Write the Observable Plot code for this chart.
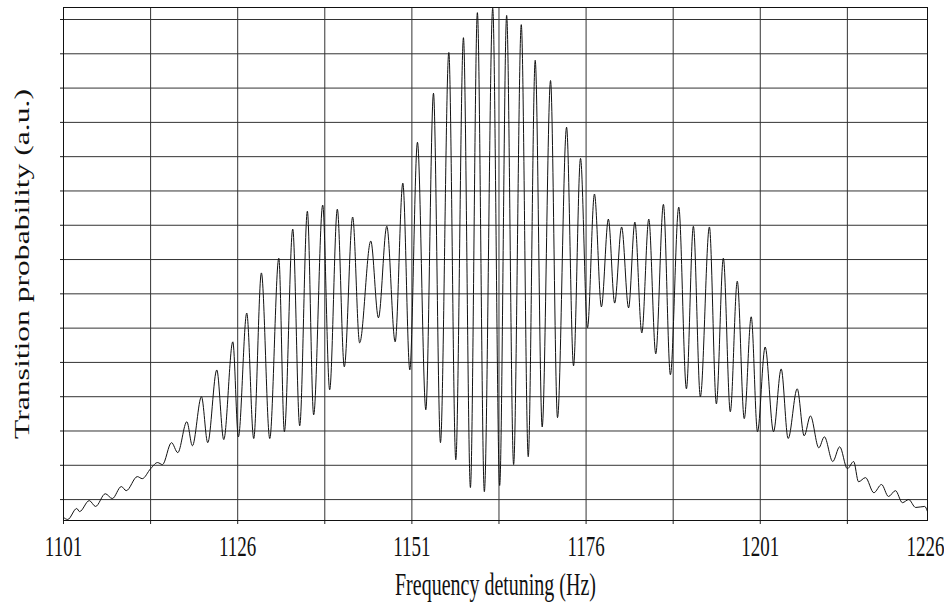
<!DOCTYPE html>
<html>
<head>
<meta charset="utf-8">
<script src="https://cdn.jsdelivr.net/npm/d3@7"></script>
<script src="https://cdn.jsdelivr.net/npm/@observablehq/plot@0.6"></script>
<style>
  html, body { margin: 0; padding: 0; background: #fff; }
  #chart { width: 944px; height: 610px; overflow: hidden; }
</style>
</head>
<body>
<div id="chart"></div>
<script>
// Frequency detuning (Hz) of successive extrema of the trace
const freq = [
  1101.0, 1101.6, 1102.9, 1103.3, 1104.7, 1105.6, 1107.0, 1108.0, 1109.3, 1110.0,
  1111.6, 1112.3, 1113.5, 1114.5, 1115.2, 1116.5, 1117.4, 1118.7, 1119.5, 1120.8,
  1121.7, 1123.0, 1124.0, 1125.3, 1126.1, 1127.3, 1128.3, 1129.4, 1130.6, 1131.9,
  1132.7, 1133.9, 1134.9, 1136.0, 1136.9, 1138.2, 1139.2, 1140.3, 1141.3, 1142.5,
  1143.5, 1145.1, 1146.2, 1147.4, 1148.6, 1149.7, 1150.7, 1151.8, 1153.0, 1154.1,
  1155.1, 1156.3, 1157.3, 1158.4, 1159.4, 1160.4, 1161.4, 1162.6, 1163.6, 1164.6,
  1165.6, 1166.7, 1167.7, 1168.7, 1169.7, 1170.9, 1171.9, 1173.2, 1174.2, 1175.2,
  1176.2, 1177.2, 1178.2, 1179.2, 1180.1, 1181.1, 1182.1, 1183.0, 1184.0, 1185.0,
  1186.0, 1187.1, 1188.1, 1189.3, 1190.4, 1191.4, 1192.4, 1193.7, 1194.7, 1195.7,
  1196.7, 1197.7, 1198.7, 1199.7, 1200.6, 1201.7, 1202.9, 1204.0, 1205.0, 1206.3,
  1207.3, 1208.2, 1209.4, 1210.2, 1211.4, 1212.4, 1213.5, 1214.4, 1215.1, 1216.1,
  1217.3, 1218.4, 1219.4, 1220.4, 1221.4, 1222.3, 1223.3, 1224.6, 1225.0
];
// Transition probability (a.u.) at those points
const prob = [
  -0.52, -0.58, -0.26, -0.35, -0.03, -0.20, 0.17, 0.03, 0.38, 0.26,
  0.67, 0.61, 0.90, 1.08, 1.02, 1.66, 1.37, 2.27, 1.57, 3.00,
  1.66, 3.78, 1.75, 4.60, 1.83, 5.44, 1.78, 6.61, 1.78, 7.04,
  1.98, 7.89, 2.15, 8.41, 2.47, 8.59, 3.20, 8.47, 3.87, 8.24,
  4.57, 7.54, 5.30, 7.97, 4.60, 9.23, 3.78, 10.42, 2.62, 11.85,
  1.66, 13.04, 1.16, 13.47, 0.35, 14.20, 0.23, 14.33, 0.41, 14.12,
  1.02, 13.85, 1.25, 12.81, 2.12, 12.22, 2.39, 10.86, 3.90, 9.95,
  5.01, 8.91, 5.62, 8.18, 5.73, 7.95, 5.59, 8.09, 4.86, 8.18,
  4.25, 8.61, 3.64, 8.53, 3.23, 7.97, 3.00, 7.95, 2.79, 7.04,
  2.56, 6.37, 2.36, 5.33, 1.98, 4.45, 1.98, 3.81, 1.78, 3.23,
  1.86, 2.44, 1.51, 1.83, 1.11, 1.54, 0.90, 1.11, 0.52, 0.64,
  0.20, 0.44, 0.09, 0.26, -0.09, 0.00, -0.23, -0.20, -0.35
];
// Grid positions
const gridX = [1101, 1113.5, 1126, 1138.5, 1151, 1163.5, 1176, 1188.5, 1201, 1213.5];
const gridY = [0, 1, 2, 3, 4, 5, 6, 7, 8, 9, 10, 11, 12, 13, 14];
// Tick labels
const tickLabels = [1101, 1126, 1151, 1176, 1201];
const lastTickLabel = [1226];
const xTitle = "Frequency detuning (Hz)";
const yTitle = "Transition probability (a.u.)";

const data = freq.map((f, i) => ({f, p: prob[i]}));
const font = "'Liberation Serif', 'Times New Roman', serif";
const STRETCH = 1.58; // the source figure's type is stretched vertically

const chart = Plot.plot({
  width: 944,
  height: 610,
  marginLeft: 63,
  marginRight: 17,
  marginTop: 7,
  marginBottom: 90,
  x: {domain: [1101, 1225]},
  y: {domain: [-0.61, 14.35]},
  style: {fontFamily: font, background: "#fff", color: "#111"},
  marks: [
    Plot.ruleX(gridX, {x: d => d, stroke: "#333", strokeWidth: 1}),
    Plot.ruleY(gridY, {y: d => d, stroke: "#333", strokeWidth: 1}),
    Plot.axisX(gridX, {tickSize: 4, tickFormat: () => "", label: null, stroke: "#222"}),
    Plot.axisY(gridY, {tickSize: 3, tickFormat: () => "", label: null, stroke: "#222"}),
    Plot.frame({stroke: "#111", strokeWidth: 1}),
    Plot.line(data, {x: "f", y: "p", curve: "monotone-x", stroke: "#111", strokeWidth: 1, clip: true}),
    Plot.text(tickLabels, {x: d => d, text: d => String(d), frameAnchor: "bottom", dy: 32, fontSize: 19, fill: "#111"}),
    Plot.text(lastTickLabel, {x: d => d, text: d => String(d), frameAnchor: "bottom", dy: 32, dx: 10, textAnchor: "end", fontSize: 19, fill: "#111"}),
    Plot.text([xTitle], {text: d => d, frameAnchor: "bottom", dy: 71, fontSize: 20, fill: "#111"}),
    Plot.text([yTitle], {text: d => d, frameAnchor: "left", dx: -41, rotate: -90, textAnchor: "middle", fontSize: 20, fill: "#111"})
  ]
});
document.getElementById("chart").appendChild(chart);

// Stretch the type vertically (about each label's own centre), as in the source figure
const root = chart.tagName.toLowerCase() === "svg" ? chart : chart.querySelector("svg");
d3.select(root).selectAll("text").each(function() {
  const t = this.textContent;
  if (!t) return;
  const b = this.getBBox();
  const cx = b.x + b.width / 2, cy = b.y + b.height / 2;
  const [sx, sy] = t === yTitle ? [STRETCH, 1] : [1, STRETCH];
  const prev = this.getAttribute("transform") || "";
  this.setAttribute("transform",
    `${prev} translate(${cx},${cy}) scale(${sx},${sy}) translate(${-cx},${-cy})`);
});
</script>
</body>
</html>
